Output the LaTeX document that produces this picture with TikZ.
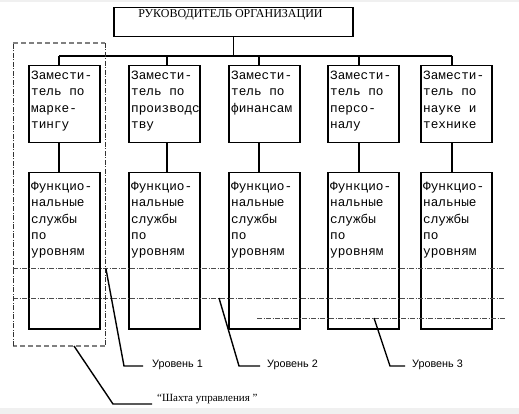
\documentclass[tikz,border=0pt]{standalone}
\usepackage{fontspec}
\setmainfont{Liberation Serif}
\newfontfamily\monof{Liberation Mono}
\newfontfamily\sansf{Liberation Sans}
\begin{document}
\begin{tikzpicture}[x=1pt,y=-1pt,
  box/.style={draw, line width=1.5pt, minimum width=71pt, inner sep=0pt, anchor=north west},
  depbox/.style={box, minimum height=77pt},
  funbox/.style={box, minimum height=156pt},
  btxt/.style={font=\monof\fontsize{12.7}{16.3}\selectfont, align=left, inner sep=0pt, anchor=north west},
  conn/.style={line width=1.5pt},
  lvl/.style={gray!60!black, line width=0.6pt, dash pattern=on 5pt off 1.5pt on 1pt off 1.5pt},
  leader/.style={line width=1.4pt},
  lab/.style={font=\sansf\fontsize{10.8}{12}\selectfont, inner sep=0pt, anchor=west},
  shaftside/.style={gray!40!black, line width=0.7pt, dash pattern=on 5pt off 1.5pt on 1pt off 1.5pt},
  shafttb/.style={gray, line width=1.2pt, dash pattern=on 5pt off 3pt}]
\useasboundingbox (0,0) rectangle (519,414);
\fill[white] (0,0) rectangle (519,414);
\fill[black!6] (0,0) rectangle (519,2);
\fill[black!6] (0,408) rectangle (519,414);

% top box
\node[box, minimum width=239pt, minimum height=29pt] (ceo) at (113,7) {};
\node[font=\fontsize{12}{14}\selectfont, inner sep=0pt] (ceot) at (230.5,14.5) {РУКОВОДИТЕЛЬ ОРГАНИЗАЦИИ};

% deputy boxes
\node[depbox] (d1) at (28,65) {};
\node[depbox] (d2) at (128,65) {};
\node[depbox] (d3) at (228,65) {};
\node[depbox] (d4) at (327,65) {};
\node[depbox] (d5) at (420,65) {};
\node[btxt] (t1) at ([shift={(3pt,-6pt)}]d1.north west) {Замести-\\тель по\\марке-\\тингу};
\node[btxt] (t2) at ([shift={(3pt,-6pt)}]d2.north west) {Замести-\\тель по\\производс\\тву};
\node[btxt] (t3) at ([shift={(3pt,-6pt)}]d3.north west) {Замести-\\тель по\\финансам};
\node[btxt] (t4) at ([shift={(3pt,-6pt)}]d4.north west) {Замести-\\тель по\\персо-\\налу};
\node[btxt] (t5) at ([shift={(3pt,-6pt)}]d5.north west) {Замести-\\тель по\\науке и\\технике};

% functional boxes
\node[funbox] (f1) at (28,172) {};
\node[funbox] (f2) at (128,172) {};
\node[funbox] (f3) at (228,172) {};
\node[funbox] (f4) at (327,172) {};
\node[funbox] (f5) at (420,172) {};
\foreach \i in {1,...,5}{
  \node[btxt] (ft\i) at ([shift={(3pt,-10pt)}]f\i.north west) {Функцио-\\нальные\\службы\\по\\уровням};
}

% column coordinates and tree connectors
\coordinate (c1) at (59,56);
\coordinate (c2) at (167,56);
\coordinate (c3) at (259,56);
\coordinate (c4) at (359,56);
\coordinate (c5) at (452,56);
\draw[conn] (ceo.south) -- (ceo.south |- c1);
\draw[conn] (c1) -- (c5);
\foreach \i in {1,...,5}{
  \draw[conn] (c\i) -- (c\i |- d\i.north);
  \draw[conn] (c\i |- d\i.south) -- (c\i |- f\i.north);
}

% level lines
\coordinate (l1a) at (13,268);
\coordinate (l1b) at (505,268);
\coordinate (l2a) at (13,298);
\coordinate (l2b) at (505,298);
\coordinate (l3a) at (257,318);
\coordinate (l3b) at (505,318);
\draw[lvl] (l1a) -- (l1b);
\draw[lvl] (l2a) -- (l2b);
\draw[lvl] (l3a) -- (l3b);

% management shaft
\coordinate (sh1) at (13,43);
\coordinate (sh2) at (105,43);
\coordinate (sh3) at (105,346);
\coordinate (sh4) at (13,346);
\draw[shafttb] (sh1) -- (sh2);
\draw[shafttb] (sh3) -- (sh4);
\draw[shaftside] (sh2) -- (sh3);
\draw[shaftside] (sh4) -- (sh1);

% labels
\node[lab] (lab1) at (152,365) {Уровень 1};
\node[lab] (lab2) at (267,365) {Уровень 2};
\node[lab] (lab3) at (412,365) {Уровень 3};
\node[font=\fontsize{11}{13}\selectfont, inner sep=0pt, anchor=west] (labs) at (157,399) {“Шахта управления ”};

% leaders
\coordinate (p1) at (106,269);
\coordinate (p2) at (219,298);
\coordinate (p3) at (374,318);
\coordinate (p4) at (74,346);
\draw[leader] (p1) -- (124,366) -- ([xshift=-9pt]lab1.west |- 0,366);
\draw[leader] (p2) -- (239,366) -- ([xshift=-7pt]lab2.west |- 0,366);
\draw[leader] (p3) -- (390,366) -- ([xshift=-7pt]lab3.west |- 0,366);
\draw[leader] (p4) -- (113,404) -- ([xshift=-5pt]labs.west |- 0,404);
\end{tikzpicture}
\end{document}
